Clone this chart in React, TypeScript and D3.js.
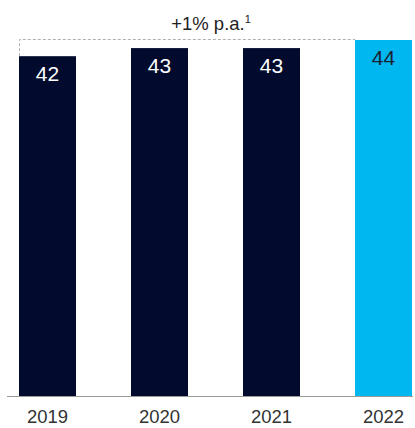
import React from "react";
import * as d3 from "d3";

const years = ["2019", "2020", "2021", "2022"];
const values = [42, 43, 43, 44];
const highlight = [false, false, false, true];
const growthLabel = "+1% p.a.";
const growthNote = "1";

const W = 415;
const H = 428;
const NAVY = "#020b2d";
const CYAN = "#00b7f0";
const FONT = "'Liberation Sans', Arial, Helvetica, sans-serif";

export default function App() {
  const x = d3.scaleBand<string>().domain(years).range([19, 412]).paddingInner(0.491).paddingOuter(0);
  const y = d3.scaleLinear().domain([0, 44]).range([396, 40]);
  const bw = x.bandwidth();

  const firstX = x(years[0])!;
  const lastX = x(years[years.length - 1])!;
  const topY = y(values[values.length - 1]);
  const firstTop = y(values[0]);

  return (
    <svg width={W} height={H} style={{ position: "absolute", left: 0, top: 0, background: "#fff" }}>
      {years.map((yr, i) => (
        <g key={yr}>
          <rect x={x(yr)} y={y(values[i])} width={bw} height={y(0) - y(values[i])} fill={highlight[i] ? CYAN : NAVY} />
          <text
            x={x(yr)! + bw / 2}
            y={y(values[i]) + 24.5}
            textAnchor="middle"
            fontFamily={FONT}
            fontSize={21}
            fill={highlight[i] ? "#1b2233" : "#ffffff"}
          >
            {values[i]}
          </text>
          <text x={x(yr)! + bw / 2} y={423} textAnchor="middle" fontFamily={FONT} fontSize={18.5} fill="#333">
            {yr}
          </text>
        </g>
      ))}
      <line x1={7} x2={413} y1={y(0) + 0.5} y2={y(0) + 0.5} stroke="#999" strokeWidth={1} />
      <path
        d={`M${firstX + 0.5},${firstTop} V${topY - 0.5} H${lastX}`}
        fill="none"
        stroke="#b0b0b0"
        strokeWidth={1}
        strokeDasharray="3,2"
      />
      <text x={211} y={30} textAnchor="middle" fontFamily={FONT} fontSize={18.5} fill="#222">
        {growthLabel}
        <tspan fontSize={11} dy={-7}>{growthNote}</tspan>
      </text>
    </svg>
  );
}
